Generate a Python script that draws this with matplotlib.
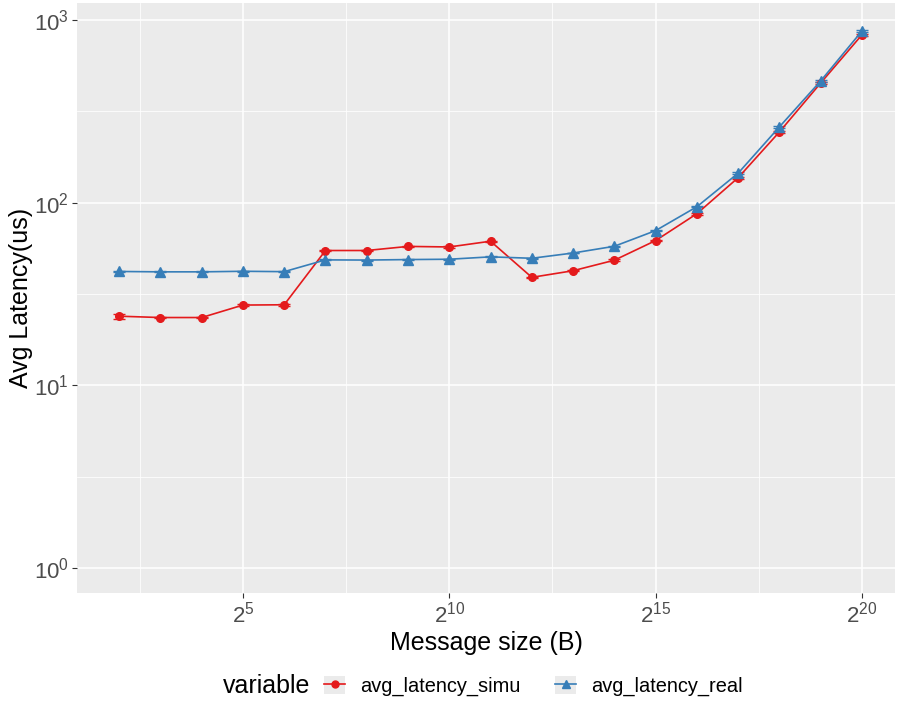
import matplotlib.pyplot as plt
from matplotlib.patches import Patch
from matplotlib.lines import Line2D
from matplotlib.legend_handler import HandlerTuple
from matplotlib.ticker import FixedLocator, NullFormatter

plt.rcParams['font.family'] = ['Liberation Sans', 'DejaVu Sans']
plt.rcParams['mathtext.fontset'] = 'custom'
plt.rcParams['mathtext.rm'] = 'Liberation Sans'
plt.rcParams['mathtext.it'] = 'Liberation Sans'

# message sizes (bytes)
sizes = [2 ** k for k in range(2, 21)]
# average latency in us
simu = [23.9, 23.5, 23.5, 27.5, 27.6, 54.7, 54.7, 57.6, 57.2, 61.5, 39.0, 42.4,
        48.4, 62.0, 87.0, 137, 244, 452, 830]
simu_err = [0.8, 0.2, 0.2, 0.3, 0.3, 0.4, 0.4, 0.4, 0.4, 0.5, 0.4, 0.4,
            0.5, 0.6, 1.0, 2.0, 4.0, 7.0, 12.0]
real = [42.0, 41.8, 41.8, 42.1, 41.9, 48.6, 48.5, 48.8, 49.0, 50.5, 49.6, 53.0,
        57.7, 70.3, 95.0, 145, 260, 464, 871]
real_err = [0.3, 0.3, 0.3, 0.3, 0.3, 0.3, 0.3, 0.3, 0.3, 0.3, 0.3, 0.3,
            0.4, 0.5, 0.8, 1.5, 3.0, 5.0, 9.0]

c_simu = '#E41A1C'
c_real = '#377EB8'

fig = plt.figure(figsize=(8.97, 7.03), dpi=100)
ax = fig.add_axes([77 / 897, 1 - 593 / 703, 818 / 897, 590 / 703])
ax.set_facecolor('#EBEBEB')

ax.errorbar(sizes, simu, yerr=simu_err, color=c_simu, ecolor=c_simu, lw=1.2,
            elinewidth=1.2, capsize=4, marker='o', ms=5.5, zorder=3)
ax.errorbar(sizes, real, yerr=real_err, color=c_real, ecolor=c_real, lw=1.2,
            elinewidth=1.2, capsize=4, marker='^', ms=6.5, zorder=3)

ax.set_xscale('log', base=2)
ax.set_yscale('log', base=10)
ax.set_xlim(2 ** 0.98, 2 ** 20.8)
ax.set_ylim(10 ** -0.137, 10 ** 3.093)

ax.xaxis.set_major_locator(FixedLocator([2 ** 5, 2 ** 10, 2 ** 15, 2 ** 20]))
ax.xaxis.set_minor_locator(FixedLocator([2 ** 2.5, 2 ** 7.5, 2 ** 12.5, 2 ** 17.5]))
ax.set_xticklabels([r'$2^{5}$', r'$2^{10}$', r'$2^{15}$', r'$2^{20}$'])
ax.yaxis.set_major_locator(FixedLocator([1, 10, 100, 1000]))
ax.yaxis.set_minor_locator(FixedLocator([10 ** 0.5, 10 ** 1.5, 10 ** 2.5]))
ax.set_yticklabels([r'$10^{0}$', r'$10^{1}$', r'$10^{2}$', r'$10^{3}$'])
ax.xaxis.set_minor_formatter(NullFormatter())
ax.yaxis.set_minor_formatter(NullFormatter())

ax.grid(which='major', color='white', lw=1.1, zorder=0)
ax.grid(which='minor', color='white', lw=0.55, zorder=0)
ax.set_axisbelow(True)
for s in ax.spines.values():
    s.set_visible(False)
ax.tick_params(which='major', length=3.5, width=0.8, color='#333333',
               labelcolor='#4D4D4D', labelsize=16, pad=2.5)
ax.tick_params(which='minor', length=0)

ax.set_xlabel('Message size (B)', fontsize=18, labelpad=3)
ax.set_ylabel('Avg Latency(us)', fontsize=18)
ax.yaxis.set_label_coords(-0.0538, 0.5)

# legend at the bottom
fig.text(223 / 897, 1 - 686 / 703, 'variable', fontsize=18, va='center', ha='left')
h_simu = (Patch(facecolor='#EBEBEB', edgecolor='none'),
          Line2D([], [], color=c_simu, lw=1.2, marker='o', ms=5))
h_real = (Patch(facecolor='#EBEBEB', edgecolor='none'),
          Line2D([], [], color=c_real, lw=1.2, marker='^', ms=6))
fig.legend([h_simu, h_real], ['avg_latency_simu', 'avg_latency_real'],
           handler_map={tuple: HandlerTuple(ndivide=1, pad=0)},
           loc='center left', bbox_to_anchor=(324 / 897, 1 - 686 / 703),
           ncol=2, frameon=False, fontsize=14.4, handlelength=1.05,
           handleheight=1.05, handletextpad=0.75, columnspacing=1.75,
           borderpad=0, borderaxespad=0)

fig.savefig('out.png', dpi=100)
